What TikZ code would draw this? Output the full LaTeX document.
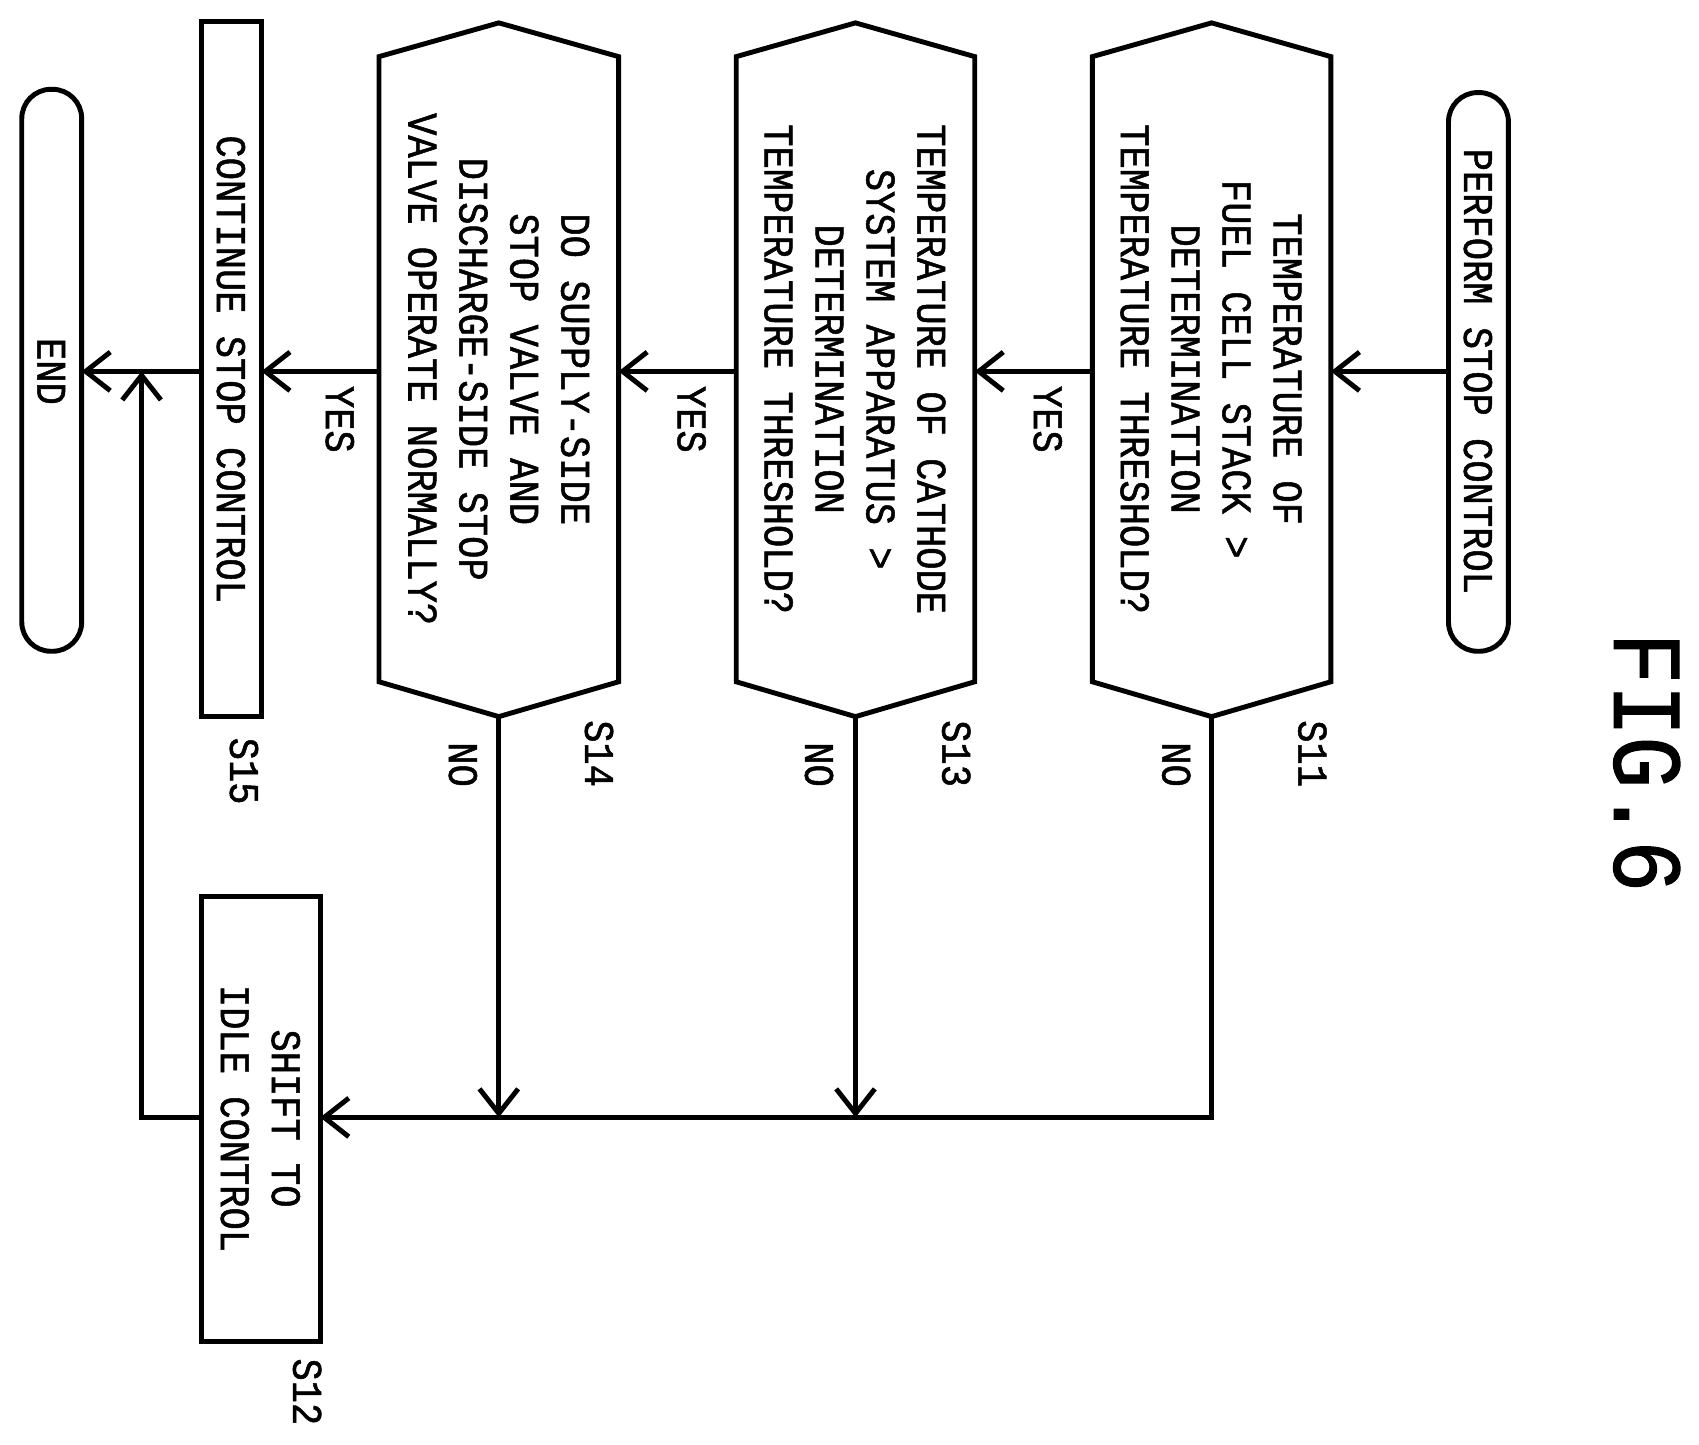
\documentclass[tikz,border=0pt]{standalone}
\usepackage{fontspec}
\setmonofont{Liberation Mono}[FakeStretch=0.88, FakeBold=1.2]
\usetikzlibrary{arrows.meta}
\begin{document}
\begin{tikzpicture}[x=0.01089cm, y=-0.01089cm, font=\ttfamily\fontsize{12}{14.5}\selectfont]

	% Define basic styles
	\tikzset{
		txt/.style={rotate=-90, align=center, inner sep=0pt},
		lbl/.style={rotate=-90, inner sep=0pt},
		box/.style={draw, line width=1.4pt},
		term/.style={draw, line width=1.4pt, rounded corners=8.3pt},
		arrow/.style={line width=1.4pt, -{Straight Barb[length=7pt, width=11pt]}}
	}
	\useasboundingbox (0,0) rectangle (1560,1326);

	% Terminals
	\draw[term] (1330,85) rectangle (1385,598);
	\node[txt] (start) at (1357,341) {PERFORM STOP CONTROL};
	\draw[term] (20,82) rectangle (75,598);
	\node[txt] (end) at (47,341) {END};
	\coordinate (startL) at (1330,341);
	\coordinate (endR) at (75,341);

	% Decisions
	\foreach \n/\l/\r in {s11/1003/1222, s13/676/895, s14/348/568}{
		\draw[line width=1.4pt] (\l,52) -- ({(\l+\r)/2},21) -- (\r,52) -- (\r,626) -- ({(\l+\r)/2},658) -- (\l,626) -- cycle;
		\coordinate (\n R) at (\r,341);
		\coordinate (\n L) at (\l,341);
		\coordinate (\n B) at ({(\l+\r)/2},658);
	}
	\node[txt] (s11) at (1112,339) {TEMPERATURE OF\\FUEL CELL STACK >\\DETERMINATION\\TEMPERATURE THRESHOLD?};
	\node[txt] (s13) at (785,339) {TEMPERATURE OF CATHODE\\SYSTEM APPARATUS >\\DETERMINATION\\TEMPERATURE THRESHOLD?};
	\node[txt] (s14) at (458,339) {DO SUPPLY-SIDE\\STOP VALVE AND\\DISCHARGE-SIDE STOP\\VALVE OPERATE NORMALLY?};

	% Processes
	\draw[box] (185,20) rectangle (240,658);
	\node[txt] (s15) at (212,339) {CONTINUE STOP CONTROL};
	\draw[box] (185,823) rectangle (294,1232);
	\node[txt] (s12) at (239,1027) {SHIFT TO\\IDLE CONTROL};
	\coordinate (s15R) at (240,341);
	\coordinate (s15L) at (185,341);
	\coordinate (s12R) at (294,1026);
	\coordinate (s12L) at (185,1026);

	% Labels
	\node[lbl] at (1205,692) {S11};
	\node[lbl] at (878,692) {S13};
	\node[lbl] at (550,692) {S14};
	\node[lbl] at (224,708) {S15};
	\node[lbl] at (282,1278) {S12};
	\foreach \x in {962,635,312} \node[lbl] at (\x,385) {YES};
	\foreach \x in {1080,752,425} \node[lbl] at (\x,702) {NO};
	\node[lbl, font=\ttfamily\fontsize{28}{28}\selectfont] at (1512,700) {FIG.6};

	% Arrows
	\draw[arrow] (startL) -- (s11R);
	\draw[arrow] (s11L) -- (s13R);
	\draw[arrow] (s13L) -- (s14R);
	\draw[arrow] (s14L) -- (s15R);
	\draw[arrow] (s15L) -- (endR);
	\draw[arrow] (s11B) |- (s12R);
	\draw[arrow] (s13B) -- (s13B |- s12R);
	\draw[arrow] (s14B) -- (s14B |- s12R);
	\draw[arrow] (s12L) -| (130,341);

\end{tikzpicture}
\end{document}
